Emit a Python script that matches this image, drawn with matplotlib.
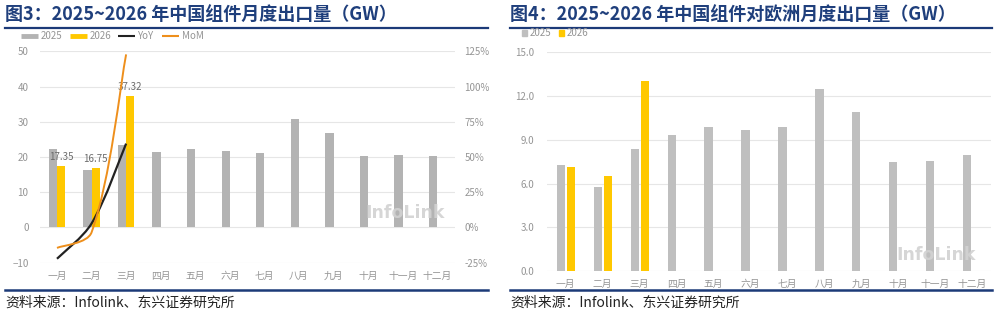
import matplotlib
matplotlib.use("Agg")
import matplotlib.pyplot as plt
import numpy as np
from matplotlib.lines import Line2D
from matplotlib.path import Path
from matplotlib.patches import PathPatch, Rectangle

plt.rcParams['font.family'] = ['Noto Sans CJK SC', 'DejaVu Sans']

months = ['一月', '二月', '三月', '四月', '五月', '六月',
          '七月', '八月', '九月', '十月', '十一月', '十二月']

# fig 3: total module exports (GW)
total_2025 = [22.3, 16.3, 23.4, 21.4, 22.4, 21.7, 21.2, 30.8, 26.7, 20.2, 20.7, 20.3]
total_2026 = [17.35, 16.75, 37.32]
yoy_pct = [-22.2, 2.8, 59.5]
mom_pct = [-14.5, -3.5, 122.8]

# fig 4: exports to Europe (GW)
eu_2025 = [7.29, 5.76, 8.39, 9.35, 9.88, 9.69, 9.85, 12.48, 10.93, 7.50, 7.54, 7.93]
eu_2026 = [7.13, 6.49, 13.03]

W, H = 997, 317
GREY_TXT = '#959595'
NAVY = '#1c3a78'
TITLE_C = '#1f3f7c'
YELLOW = '#FFC800'

fig = plt.figure(figsize=(W / 100, H / 100), dpi=100)


def fx(px):
    return px / W


def fy(py):
    return 1 - py / H


def smooth_path(xs, ys, sx, sy):
    # bezier through the points, tangents weighted by chord length in pixels
    pts = np.column_stack([xs, ys]).astype(float)
    scale = np.array([sx, sy])
    n = len(pts)
    tang = []
    for i in range(n):
        a = pts[max(i - 1, 0)]
        b = pts[min(i + 1, n - 1)]
        tang.append(b - a)
    verts = [pts[0]]
    codes = [Path.MOVETO]
    for i in range(n - 1):
        p1, p2 = pts[i], pts[i + 1]
        d_here = np.linalg.norm((p2 - p1) * scale)
        d_prev = np.linalg.norm((p1 - pts[i - 1]) * scale) if i > 0 else d_here
        d_next = np.linalg.norm((pts[i + 2] - p2) * scale) if i + 2 < n else d_here
        f1 = d_here / (d_prev + d_here) / 3 if i > 0 else 1 / 6
        f2 = d_here / (d_here + d_next) / 3 if i + 2 < n else 1 / 6
        verts += [p1 + tang[i] * f1, p2 - tang[i + 1] * f2, p2]
        codes += [Path.CURVE4] * 3
    return Path(verts, codes)


def frame(x0, x1, title):
    fig.text(fx(x0), fy(15), title, fontsize=13, fontweight='bold',
             color=TITLE_C, va='center', ha='left')
    fig.add_artist(Line2D([fx(x0), fx(x1)], [fy(27.5), fy(27.5)],
                          color=NAVY, lw=1.6, transform=fig.transFigure))
    fig.add_artist(Line2D([fx(x0), fx(x1)], [fy(289.5), fy(289.5)],
                          color=NAVY, lw=1.8, transform=fig.transFigure))
    fig.text(fx(x0), fy(303), '资料来源：Infolink、东兴证券研究所', fontsize=10,
             style='italic', color='#222222', va='center', ha='left')


def style_axes(ax):
    for s in ax.spines.values():
        s.set_visible(False)
    ax.tick_params(length=0, colors=GREY_TXT, labelsize=7)
    ax.grid(axis='y', color='#e6e6e6', lw=0.8)
    ax.set_axisbelow(True)


# ---------------- left chart ----------------
frame(5, 488, '图3：2025~2026 年中国组件月度出口量（GW）')

ax1 = fig.add_axes([fx(39.7), fy(262.7), fx(454.5 - 39.7), (262.7 - 51.3) / H])
style_axes(ax1)
x = np.arange(len(months))
bw = 0.24
ax1.bar(x - bw / 2, total_2025, width=bw, color='#b3b3b3', zorder=2)
x26 = np.arange(len(total_2026))
ax1.bar(x26 + bw / 2, total_2026, width=bw, color=YELLOW, zorder=2)
for xi, v in zip(x26, total_2026):
    ax1.text(xi + bw / 2, v + 1.2, f'{v:.2f}', ha='center', va='bottom',
             fontsize=7, color='#6b6b6b', zorder=5)
ax1.set_xlim(-0.5, len(months) - 0.5)
ax1.set_ylim(-10, 50)
ax1.set_yticks(np.arange(-10, 51, 10))
ax1.set_xticks(x)
ax1.set_xticklabels(months)
ax1.tick_params(axis='y', pad=8)
ax1.tick_params(axis='x', pad=6)

ax2 = ax1.twinx()
for s in ax2.spines.values():
    s.set_visible(False)
ax2.set_ylim(-25, 125)
ax2.set_yticks(np.arange(-25, 126, 25))
ax2.set_yticklabels([f'{t}%' for t in range(-25, 126, 25)])
ax2.tick_params(length=0, colors=GREY_TXT, labelsize=7, pad=7)
# pixel scale of one category / one percent on the left chart
sx, sy = 34.5, 211.4 / 150
ax2.add_patch(PathPatch(smooth_path(x26, yoy_pct, sx, sy), fill=False,
                        edgecolor='#222222', lw=1.6, zorder=4))
ax2.add_patch(PathPatch(smooth_path(x26, mom_pct, sx, sy), fill=False,
                        edgecolor='#ee8f1c', lw=1.4, zorder=4))

ax1.text(0.977, 0.235, 'InfoLink', transform=ax1.transAxes, ha='right',
         va='center', fontsize=12.5, fontweight='bold', family='DejaVu Sans',
         color='#d2d2d2', alpha=0.9, zorder=6)

# legend (left)
ly = fy(36.3)
legend_items = [(21, '#b3b3b3', 3.5, '2025'), (70, YELLOW, 3.5, '2026'),
                (118, '#222222', 1.5, 'YoY'), (162, '#ee8f1c', 1.5, 'MoM')]
for lx, c, lw, lab in legend_items:
    fig.add_artist(Line2D([fx(lx), fx(lx + 17)], [ly, ly], color=c, lw=lw,
                          transform=fig.transFigure, solid_capstyle='butt'))
    fig.text(fx(lx + 19.5), ly, lab, fontsize=7, color=GREY_TXT,
             va='center', ha='left')

# ---------------- right chart ----------------
frame(510, 992, '图4：2025~2026 年中国组件对欧洲月度出口量（GW）')

ax3 = fig.add_axes([fx(547.2), fy(271), fx(990.8 - 547.2), (271 - 52.25) / H])
style_axes(ax3)
bw2 = 0.22
ax3.bar(x - 0.135, eu_2025, width=bw2, color='#bfbfbf', zorder=2)
x26e = np.arange(len(eu_2026))
ax3.bar(x26e + 0.135, eu_2026, width=bw2, color=YELLOW, zorder=2)
ax3.set_xlim(-0.5, len(months) - 0.5)
ax3.set_ylim(0, 15)
ax3.set_yticks(np.arange(0, 15.1, 3))
ax3.set_yticklabels([f'{t:.1f}' for t in np.arange(0, 15.1, 3)])
ax3.set_xticks(x)
ax3.set_xticklabels(months)
ax3.tick_params(axis='y', pad=9)
ax3.tick_params(axis='x', pad=6)

ax3.text(0.965, 0.075, 'InfoLink', transform=ax3.transAxes, ha='right',
         va='center', fontsize=12.5, fontweight='bold', family='DejaVu Sans',
         color='#d2d2d2', alpha=0.9, zorder=6)

# legend (right)
ry = fy(33)
for lx, c, lab in [(522, '#bfbfbf', '2025'), (559, YELLOW, '2026')]:
    fig.add_artist(Rectangle((fx(lx), ry - 2.5 / H), 5 / W, 5 / H, color=c,
                             transform=fig.transFigure))
    fig.text(fx(lx + 7.5), ry, lab, fontsize=7, color=GREY_TXT,
             va='center', ha='left')

fig.savefig('out.png', dpi=100)
